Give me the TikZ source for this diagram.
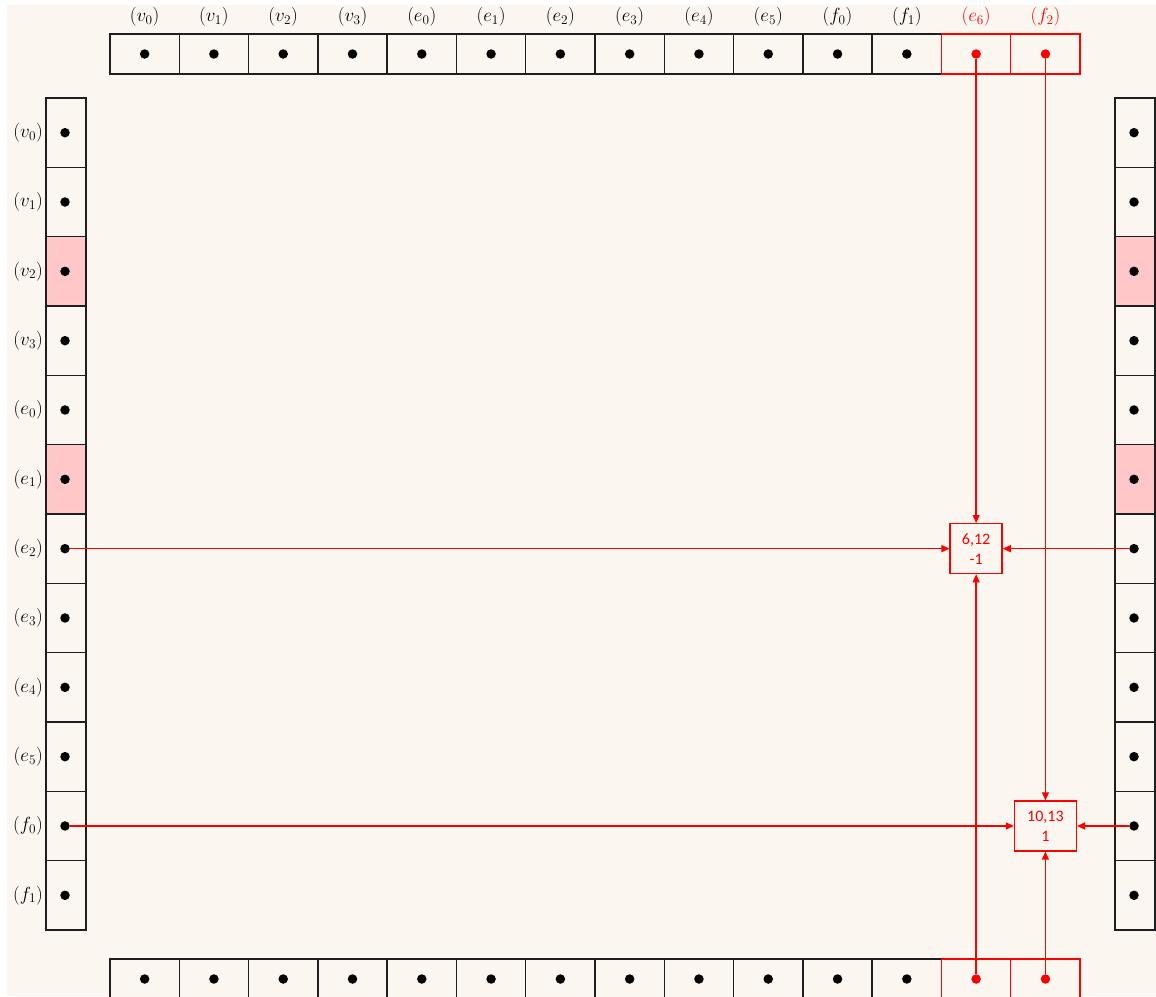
\documentclass[tikz,border=0pt]{standalone}
\usepackage{fix-cm}
\usepackage{fontspec}
\newfontfamily\boxfont{Carlito}
\usetikzlibrary{arrows.meta}
\definecolor{bg}{RGB}{251,247,240}
\definecolor{pinkfill}{RGB}{255,199,199}
\definecolor{redc}{RGB}{255,0,0}
\definecolor{edge}{RGB}{30,30,30}
\begin{document}
\begin{tikzpicture}[x=1pt,y=-1pt,
  hcell/.style={draw=edge, line width=1.4pt, minimum width=69.29pt, minimum height=40pt, inner sep=0pt, outer sep=0pt, fill=bg},
  vcell/.style={draw=edge, line width=1.4pt, minimum width=40pt, minimum height=69.33pt, inner sep=0pt, outer sep=0pt, fill=bg},
  redcell/.style={draw=redc},
  pinkcell/.style={fill=pinkfill},
  dotnode/.style={circle, fill=black, minimum size=9.5pt, inner sep=0pt, outer sep=0pt},
  reddot/.style={dotnode, fill=redc},
  lbl/.style={font=\fontsize{19}{22}\selectfont, inner sep=0pt},
  redlbl/.style={lbl, text=redc},
  valbox/.style={draw=redc, line width=1.3pt, text=redc, font=\boxfont\fontsize{16}{20}\selectfont, align=center, inner sep=0pt, fill=bg, minimum height=50pt},
  link/.style={draw=redc, line width=1.3pt, -{Triangle[length=8pt,width=7pt]}}]
\useasboundingbox (0,0) rectangle (1156,996);
\fill[bg] (7,5) rectangle (1156,996);
% top and bottom rows
\foreach \lab [count=\i from 0] in {v_0,v_1,v_2,v_3,e_0,e_1,e_2,e_3,e_4,e_5,f_0,f_1}{
  \node[hcell] (t\i) at ({144.64+69.29*\i},54) {};
  \node[hcell] (b\i) at ({144.64+69.29*\i},979) {};
  \node[lbl] (tl\i) at ({144.64+69.29*\i},17) {$(\lab)$};
}
\node[hcell, redcell] (t12) at ({144.64+69.29*12},54) {};
\node[hcell, redcell] (t13) at ({144.64+69.29*13},54) {};
\node[hcell, redcell] (b12) at ({144.64+69.29*12},979) {};
\node[hcell, redcell] (b13) at ({144.64+69.29*13},979) {};
\node[redlbl] (tl12) at ({144.64+69.29*12},17) {$(e_6)$};
\node[redlbl] (tl13) at ({144.64+69.29*13},17) {$(f_2)$};
% left and right columns
\foreach \lab/\st [count=\j from 0] in {v_0/{},v_1/{},v_2/pinkcell,v_3/{},e_0/{},e_1/pinkcell,e_2/{},e_3/{},e_4/{},e_5/{},f_0/{},f_1/{}}{
  \node[vcell, \st] (l\j) at (66,{132.67+69.33*\j}) {};
  \node[vcell, \st] (r\j) at (1135,{132.67+69.33*\j}) {};
  \node[lbl, anchor=east] (ll\j) at (43,{132.67+69.33*\j}) {$(\lab)$};
}
% dots
\foreach \i in {0,...,11}{
  \node[dotnode] (td\i) at (t\i.center) {};
  \node[dotnode] (bd\i) at (b\i.center) {};
  \node[dotnode] (ld\i) at ([xshift=-1pt]l\i.center) {};
  \node[dotnode] (rd\i) at ([xshift=-1pt]r\i.center) {};
}
\foreach \i in {12,13}{
  \node[reddot] (td\i) at (t\i.center) {};
  \node[reddot] (bd\i) at (b\i.center) {};
}
% value boxes
\node[valbox, minimum width=52pt] (vA) at (td12.center |- ld6.center) {6,12\\-1};
\node[valbox, minimum width=62pt] (vB) at (td13.center |- ld10.center) {10,13\\1};
% links
\draw[link] (td12) -- (vA.north);
\draw[link] (bd12) -- (vA.south);
\draw[link] (ld6) -- (vA.west);
\draw[link] (rd6) -- (vA.east);
\draw[link] (td13) -- (vB.north);
\draw[link] (bd13) -- (vB.south);
\draw[link] (ld10) -- (vB.west);
\draw[link] (rd10) -- (vB.east);
\end{tikzpicture}
\end{document}
